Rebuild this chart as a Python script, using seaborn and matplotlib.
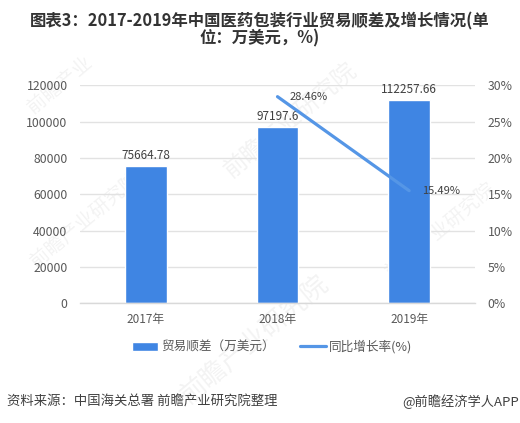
import matplotlib
matplotlib.use("Agg")
import matplotlib.pyplot as plt
import seaborn as sns
import pandas as pd

years = ["2017年", "2018年", "2019年"]
surplus = [75664.78, 97197.6, 112257.66]
surplus_labels = ["75664.78", "97197.6", "112257.66"]
growth_years = ["2018年", "2019年"]
growth = [28.46, 15.49]
growth_labels = ["28.46%", "15.49%"]
left_ticks = [0, 20000, 40000, 60000, 80000, 100000, 120000]
right_ticks = [0, 5, 10, 15, 20, 25, 30]

sns.set_theme(style="white")
plt.rcParams['font.family'] = ['Noto Sans CJK SC', 'DejaVu Sans']
BLUE = "#3f85e3"
LINE = "#5596e6"
TXT = "#595959"

fig = plt.figure(figsize=(5.2, 4.23), dpi=100)
ax = fig.add_axes([80/520, 1-303/423, 395/520, 217.5/423])
ax.set_zorder(2); ax.patch.set_alpha(0)

for (x, y, s, r, fs) in [(290, 120, "前瞻产业研究院", 40, 17), (255, 340, "前瞻产业研究院", 40, 19),
                         (60, 85, "前瞻产业", 40, 14), (440, 230, "前瞻产业研究院", 40, 14),
                         (85, 220, "前瞻产业研究院", 40, 14)]:
    fig.text(x/520, 1-y/423, s, fontsize=fs, color="#000000", alpha=0.05, rotation=r,
             ha="center", va="center", zorder=0)

df = pd.DataFrame({"year": years, "surplus": surplus})
sns.barplot(data=df, x="year", y="surplus", order=years, color=BLUE, saturation=1,
            width=0.315, ax=ax)
ax.set_xlim(-0.5, 2.5); ax.set_ylim(0, 120000)
ax.set_yticks(left_ticks)
ax.set_xlabel(""); ax.set_ylabel("")
ax.yaxis.grid(True, color="#e2e2e2", lw=1); ax.set_axisbelow(True)
for s in ["top", "right", "left"]:
    ax.spines[s].set_visible(False)
ax.spines["bottom"].set_color("#d9d9d9"); ax.spines["bottom"].set_linewidth(1)
ax.tick_params(axis="both", length=0, labelcolor=TXT)
ax.tick_params(axis="y", pad=9, labelsize=8.8)
ax.tick_params(axis="x", pad=7, labelsize=8.5)

for i, (v, l) in enumerate(zip(surplus, surplus_labels)):
    ax.annotate(l, (i, v), xytext=(0, 2.5), textcoords="offset points", ha="center", va="bottom",
                fontsize=8.5, color="#404040")

ax2 = ax.twinx()
ax2.set_zorder(3); ax2.patch.set_alpha(0)
sns.lineplot(x=[years.index(y) for y in growth_years], y=growth, color=LINE, lw=2.3, ax=ax2,
             legend=False, solid_capstyle="round")
ax2.set_ylim(0, 30); ax2.set_xlim(-0.5, 2.5)
ax2.set_yticks(right_ticks); ax2.set_yticklabels([f"{t}%" for t in right_ticks])
ax2.tick_params(axis="y", length=0, labelsize=8.8, labelcolor=TXT, pad=9)
ax2.set_ylabel("")
for s in ax2.spines.values():
    s.set_visible(False)
ax2.grid(False)
for y, v, l in zip(growth_years, growth, growth_labels):
    ax2.annotate(l, (years.index(y), v), xytext=(9, 0), textcoords="offset points",
                 ha="left", va="center", fontsize=8, color="#404040")

h1 = ax.containers[0].patches[0]
h2 = ax2.get_lines()[0]
leg = fig.legend([h1, h2], ["贸易顺差（万美元）", "同比增长率(%)"], loc="center",
                 bbox_to_anchor=(272/520, 1-347/423), ncol=2,
                 frameon=False, fontsize=9.1, labelcolor=TXT, columnspacing=2.0,
                 handlelength=2.1, handletextpad=0.2, handleheight=0.7)

fig.text(260/520, 1-21/423, "图表3：2017-2019年中国医药包装行业贸易顺差及增长情况(单", fontsize=11.8,
         fontweight="bold", color="#333333", ha="center", va="center")
fig.text(260/520, 1-38/423, "位：万美元，%)", fontsize=11.8, fontweight="bold", color="#333333",
         ha="center", va="center")
fig.text(7/520, 1-402/423, "资料来源：中国海关总署 前瞻产业研究院整理", fontsize=9.6, color="#404040",
         ha="left", va="center")
fig.text(519/520, 1-402/423, "@前瞻经济学人APP", fontsize=9.5, color="#404040", ha="right", va="center")
fig.savefig("out.png", dpi=100)
